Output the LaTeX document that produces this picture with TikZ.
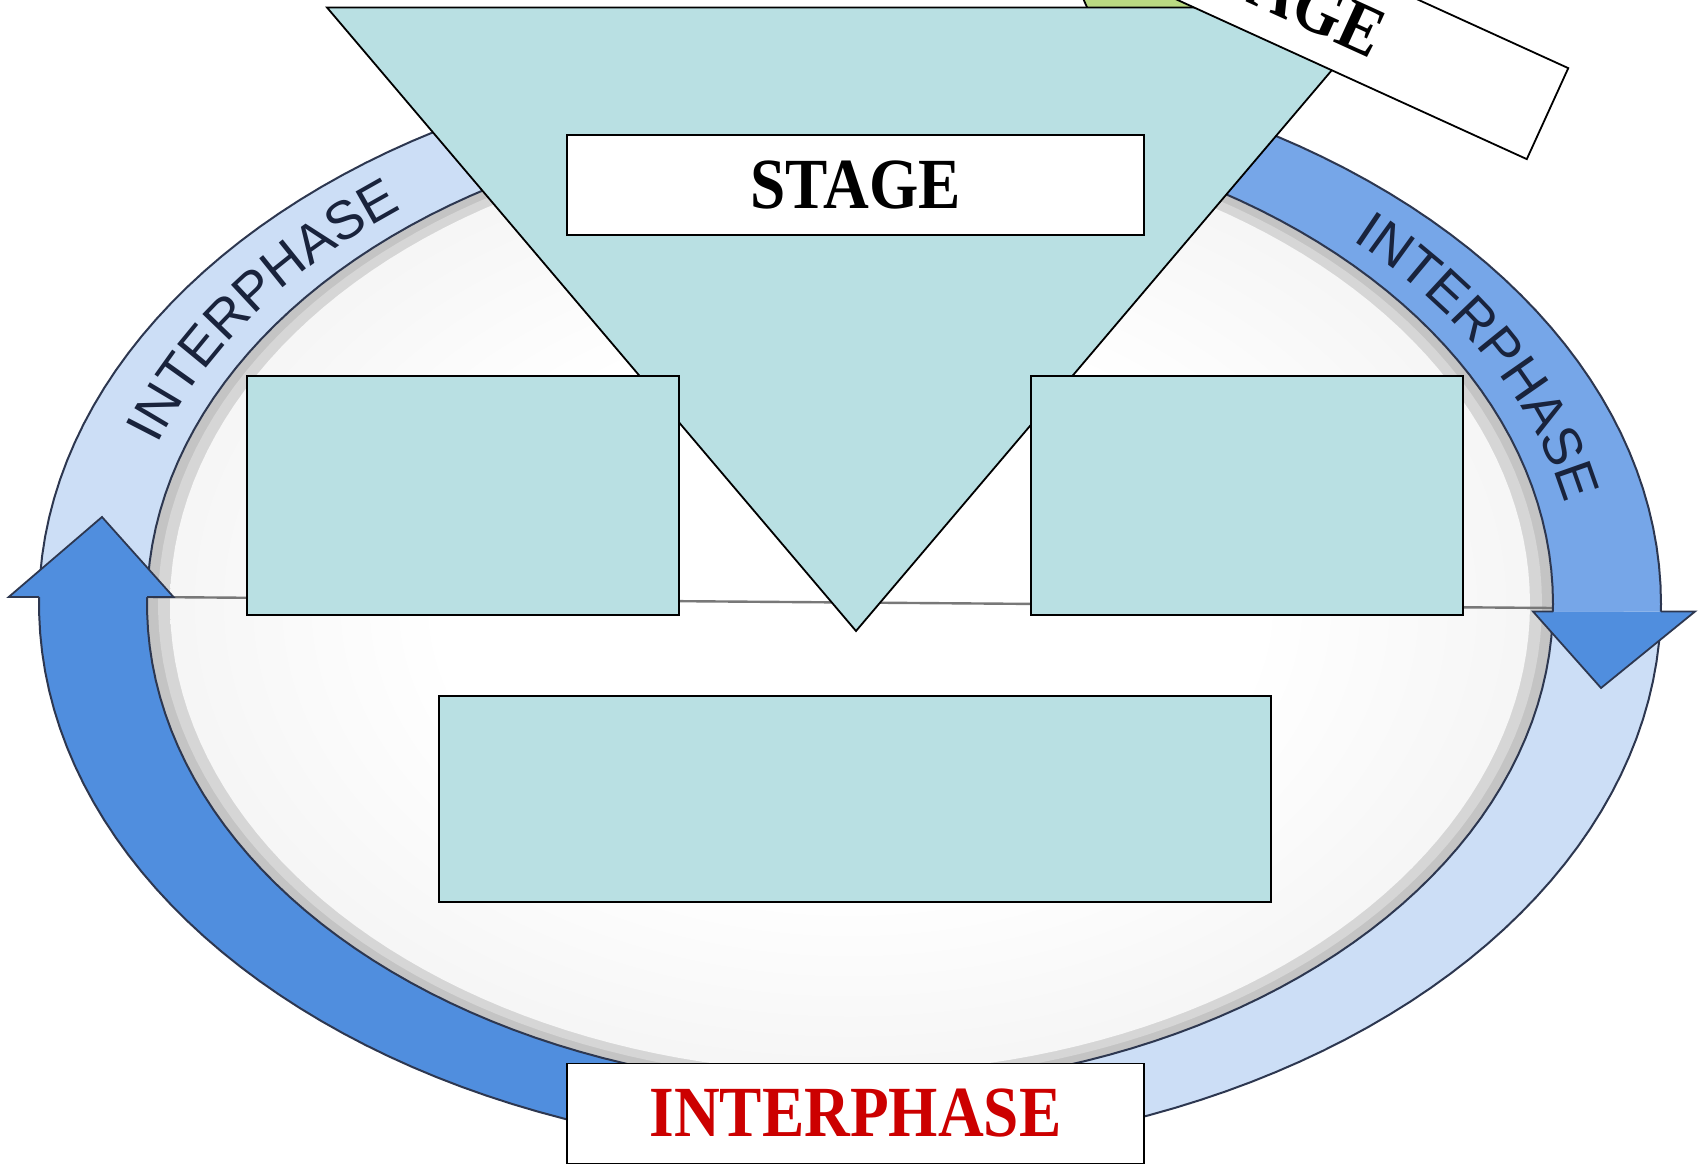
\documentclass[tikz,border=0pt]{standalone}
\usepackage{fontspec}
\usetikzlibrary{decorations.text}
\newfontfamily\stagefont[FakeStretch=0.88]{Liberation Serif}
\newfontfamily\arcfont{Liberation Sans}
\newcommand\arcstyle{\arcfont\fontsize{27}{32}\selectfont}
\definecolor{boxblue}{RGB}{185,224,227}
\definecolor{ringlight}{RGB}{204,222,246}
\definecolor{ringmid}{RGB}{118,166,232}
\definecolor{ringdark}{RGB}{80,142,222}
\definecolor{ringline}{RGB}{45,55,80}
\definecolor{arcnavy}{RGB}{25,35,60}
\definecolor{leafgreen}{RGB}{185,218,130}
\definecolor{redtext}{RGB}{204,0,0}
\definecolor{rimgray}{RGB}{196,196,196}
\definecolor{rimgrayB}{RGB}{214,214,214}
\definecolor{divline}{RGB}{120,120,120}
\definecolor{discA}{RGB}{241,241,241}
\definecolor{discB}{RGB}{231,231,231}
\definecolor{discC}{RGB}{224,224,224}
\pgfdeclareradialshading{discshade}{\pgfpoint{0bp}{0bp}}{%
  color(0bp)=(white); color(15bp)=(white); color(30bp)=(discA); color(42bp)=(discB); color(50bp)=(discC)}
\def\ecx{850}\def\ecy{604}
\def\eao{811}\def\ebo{550}
\def\eai{703}\def\ebi{485}
\newcommand\ringband[5]{%
  \fill[#1] plot[domain=#2:#3,samples=90] ({\ecx+\eao*cos(\x)},{\ecy+\ebo*sin(\x)})
    -- plot[domain=#4:#5,samples=90] ({\ecx+\eai*cos(\x)},{\ecy+\ebi*sin(\x)}) -- cycle;}
\tikzset{
  bluebox/.style={draw=black, line width=0.9pt, fill=boxblue, inner sep=0pt},
  whitebox/.style={draw=black, line width=0.9pt, fill=white, inner sep=0pt,
    minimum width=288.5pt, minimum height=50pt},
  stagetext/.style={font=\stagefont\bfseries\fontsize{36}{40}\selectfont},
  arrowhd/.style={fill=ringdark, draw=ringline, line width=0.9pt, line join=miter},
  arctext/.style={decorate, decoration={text along path, text={|\arcstyle|INTERPHASE},
    text align={fit to path}, text color=arcnavy}}
}
\begin{document}
\begin{tikzpicture}[x=0.5pt,y=-0.5pt]
\useasboundingbox (0,0) rectangle (1700,1165);
\fill[white] (0,0) rectangle (1700,1165);
\begin{scope}
\clip (0,0) rectangle (1700,1165);
% disc interior
\fill[rimgray] plot[domain=0:360,samples=180] ({\ecx+\eai*cos(\x)},{\ecy+\ebi*sin(\x)}) -- cycle;
\fill[rimgrayB] plot[domain=0:360,samples=180] ({\ecx+692*cos(\x)},{\ecy+477*sin(\x)}) -- cycle;
\shade[shading=discshade] plot[domain=0:360,samples=180] ({\ecx+680*cos(\x)},{\ecy+469*sin(\x)}) -- cycle;
\draw[divline, line width=1.2pt] (147,597) -- (1553,608);
% ring bands
\ringband{ringlight}{178}{272}{272}{178}
\ringband{ringlight}{-2}{92}{92}{-2}
\ringband{ringmid}{268}{360.78}{360.89}{268}
\ringband{ringdark}{88}{180.73}{180.83}{88}
\draw[ringline, line width=1pt] plot[domain=0:360,samples=180] ({\ecx+\eao*cos(\x)},{\ecy+\ebo*sin(\x)}) -- cycle;
\draw[ringline, line width=1pt] plot[domain=0:360,samples=180] ({\ecx+\eai*cos(\x)},{\ecy+\ebi*sin(\x)}) -- cycle;
% arrow heads
\filldraw[arrowhd] (39,597) -- (8.7,597) -- (102,517) -- (173.5,597) -- (147,597);
\filldraw[arrowhd] (1661,611.5) -- (1695,611.5) -- (1601,688) -- (1533,611.5) -- (1553,611.5);
% curved labels
\path[arctext] plot[domain=198.5:231.5,samples=60] ({\ecx+730*cos(\x)},{\ecy+501*sin(\x)});
\path[arctext] plot[domain=313.5:348.5,samples=60] ({\ecx+730*cos(\x)},{\ecy+501*sin(\x)});
% green shape behind
\filldraw[fill=leafgreen, draw=black, line width=0.9pt] (1082,-4) -- (1090,14) -- (1210,14) -- (1210,-4);
% triangle
\filldraw[fill=boxblue, draw=black, line width=0.9pt, line join=miter] (327,7.5) -- (1385,7.5) -- (856,631) -- cycle;
% rotated label box
\node[whitebox, stagetext, rotate=-24.5] (topstage) at (1285,-6) {STAGE};
% boxes
\node[whitebox, stagetext] (stage) at (855.5,185.3) {STAGE};
\node[bluebox, minimum width=216pt, minimum height=119.5pt] (leftbox) at (463,495.5) {};
\node[bluebox, minimum width=216pt, minimum height=119.5pt] (rightbox) at (1247,495.5) {};
\node[bluebox, minimum width=416pt, minimum height=103pt] (midbox) at (855,799) {};
\node[whitebox, stagetext, text=redtext] (inter) at (855.5,1113.5) {INTERPHASE};
\end{scope}
\end{tikzpicture}
\end{document}
